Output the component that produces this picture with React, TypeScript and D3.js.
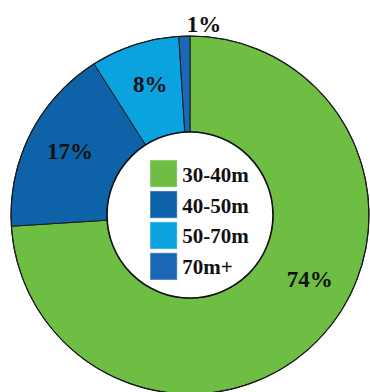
import React from "react";
import * as d3 from "d3";

const categories = ["30-40m", "40-50m", "50-70m", "70m+"];
const values = [74, 17, 8, 1];
const colors = ["#6EBE44", "#0E62A8", "#0BA2E0", "#1B67B6"];
const labelAngleShift = [-15, 1, 1, 6]; // degrees, label placement tweak
const labelOutside = [false, false, false, true];

const W = 370;
const H = 392;
const cx = 190;
const cy = 215;
const outerR = 179;
const innerR = 83;

export default function App() {
  const pie = d3.pie<number>().sort(null).value((d) => d)(values);
  const arc = d3.arc<d3.PieArcDatum<number>>().innerRadius(innerR).outerRadius(outerR);
  const font = "'Liberation Serif', 'Times New Roman', serif";

  const labelPos = (p: d3.PieArcDatum<number>, i: number) => {
    const mid = (p.startAngle + p.endAngle) / 2 + (labelAngleShift[i] * Math.PI) / 180;
    const r = labelOutside[i] ? outerR + 12 : (innerR + outerR) / 2 + 5;
    return [r * Math.sin(mid), -r * Math.cos(mid)];
  };

  const legendY = d3.scaleBand<string>().domain(categories).range([-55, 65]).paddingInner(0.12);

  return (
    <div style={{ position: "absolute", left: 0, top: 0 }}>
      <svg width={W} height={H} style={{ display: "block", background: "#fff" }}>
        <g transform={`translate(${cx},${cy})`}>
          {pie.map((p, i) => (
            <path key={i} d={arc(p) || ""} fill={colors[i]} stroke="#1a1a1a" strokeWidth={1} />
          ))}
          <circle r={outerR} fill="none" stroke="#1a1a1a" strokeWidth={1.2} />
          <circle r={innerR} fill="#fff" stroke="#111" strokeWidth={1.6} />
          {pie.map((p, i) => {
            const [x, y] = labelPos(p, i);
            return (
              <text
                key={"l" + i}
                x={x}
                y={y}
                textAnchor="middle"
                dominantBaseline="central"
                fontFamily={font}
                fontWeight={labelOutside[i] ? "600" : "bold"}
                fontSize={labelOutside[i] ? 23 : 23}
                fill="#111"
              >
                {values[i]}%
              </text>
            );
          })}
          {categories.map((c, i) => (
            <g key={"lg" + i} transform={`translate(-40,${legendY(c)})`}>
              <rect
                width={legendY.bandwidth()}
                height={legendY.bandwidth()}
                fill={colors[i]}
                stroke="#ffffff"
                strokeOpacity={0.5}
                strokeWidth={1}
              />
              <text
                x={legendY.bandwidth() + 5}
                y={legendY.bandwidth() / 2 + 1}
                dominantBaseline="central"
                fontFamily={font}
                fontWeight="bold"
                fontSize={21}
                fill="#111"
              >
                {c}
              </text>
            </g>
          ))}
        </g>
      </svg>
    </div>
  );
}
